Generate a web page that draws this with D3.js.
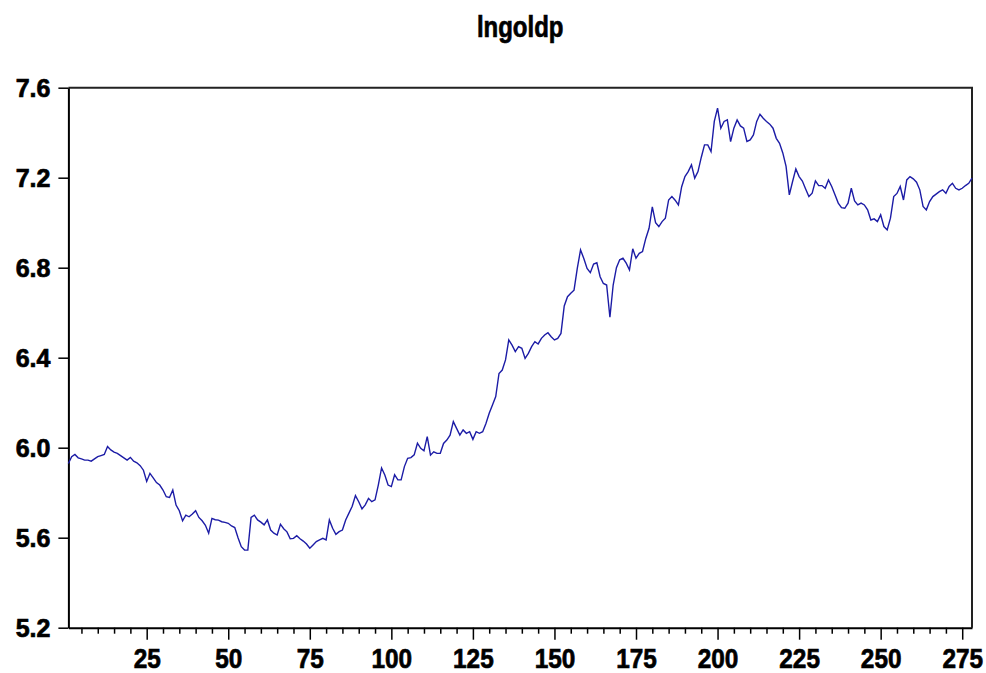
<!DOCTYPE html>
<html>
<head>
<meta charset="utf-8">
<script src="https://cdn.jsdelivr.net/npm/d3@7"></script>
<style>
  body { margin: 0; background: #fff; }
  svg text { font-family: "Liberation Sans", Arial, sans-serif; font-weight: bold; fill: #000; stroke: #000; stroke-width: 0.7px; }
</style>
</head>
<body>
<div id="chart"></div>
<script>
// series title
const title = "lngoldp";

const values = [
  5.930, 5.960, 5.970, 5.955, 5.950, 5.945, 5.945, 5.940, 5.950, 5.960,
  5.965, 5.970, 6.005, 5.990, 5.980, 5.975, 5.965, 5.955, 5.945, 5.957,
  5.940, 5.933, 5.920, 5.900, 5.850, 5.886, 5.866, 5.845, 5.834, 5.812,
  5.782, 5.779, 5.812, 5.745, 5.720, 5.675, 5.700, 5.693, 5.705, 5.720,
  5.690, 5.675, 5.655, 5.620, 5.686, 5.680, 5.678, 5.671, 5.668, 5.664,
  5.652, 5.645, 5.600, 5.560, 5.545, 5.545, 5.690, 5.700, 5.679, 5.669,
  5.657, 5.679, 5.634, 5.620, 5.612, 5.660, 5.640, 5.626, 5.595, 5.597,
  5.609, 5.595, 5.585, 5.572, 5.553, 5.568, 5.583, 5.590, 5.597, 5.590,
  5.679, 5.642, 5.615, 5.627, 5.634, 5.679, 5.709, 5.740, 5.787, 5.760,
  5.728, 5.746, 5.775, 5.760, 5.768, 5.834, 5.910, 5.879, 5.834, 5.827,
  5.880, 5.857, 5.857, 5.916, 5.953, 5.956, 5.968, 6.020, 5.997, 5.986,
  6.049, 5.967, 5.982, 5.975, 5.975, 6.019, 6.034, 6.056, 6.116, 6.086,
  6.056, 6.079, 6.064, 6.071, 6.037, 6.071, 6.064, 6.071, 6.108, 6.153,
  6.190, 6.227, 6.330, 6.345, 6.390, 6.479, 6.456, 6.427, 6.449, 6.442,
  6.397, 6.419, 6.449, 6.471, 6.461, 6.486, 6.501, 6.511, 6.493, 6.479,
  6.486, 6.508, 6.630, 6.671, 6.686, 6.700, 6.797, 6.879, 6.841, 6.797,
  6.778, 6.816, 6.822, 6.760, 6.730, 6.723, 6.580, 6.723, 6.800, 6.835,
  6.842, 6.820, 6.790, 6.884, 6.842, 6.864, 6.872, 6.930, 6.975, 7.070,
  7.000, 6.983, 7.005, 7.020, 7.101, 7.116, 7.100, 7.079, 7.160, 7.205,
  7.227, 7.257, 7.198, 7.227, 7.290, 7.346, 7.346, 7.316, 7.450, 7.509,
  7.420, 7.450, 7.457, 7.360, 7.420, 7.457, 7.430, 7.420, 7.361, 7.368,
  7.390, 7.450, 7.482, 7.464, 7.450, 7.438, 7.420, 7.375, 7.353, 7.310,
  7.250, 7.124, 7.183, 7.239, 7.205, 7.185, 7.150, 7.116, 7.131, 7.186,
  7.165, 7.165, 7.153, 7.190, 7.161, 7.124, 7.087, 7.067, 7.064, 7.087,
  7.153, 7.097, 7.079, 7.087, 7.079, 7.057, 7.012, 7.017, 7.005, 7.035,
  6.983, 6.968, 7.020, 7.116, 7.130, 7.161, 7.101, 7.190, 7.205, 7.195,
  7.180, 7.146, 7.072, 7.057, 7.094, 7.116, 7.127, 7.138, 7.146, 7.131,
  7.161, 7.175, 7.153, 7.146, 7.153, 7.165, 7.175, 7.198
];

// axis ticks
const yTicks = [5.2, 5.6, 6.0, 6.4, 6.8, 7.2, 7.6];
const xMajor = [25, 50, 75, 100, 125, 150, 175, 200, 225, 250, 275];
const xMinorStep = 5;

const W = 986, H = 673;
const plot = { left: 68.4, right: 972, top: 87.7, bottom: 627.7 };

const svg = d3.select("#chart").append("svg")
    .attr("width", W)
    .attr("height", H);

const x = d3.scaleLinear()
    .domain([1, values.length])
    .range([plot.left, plot.right]);

const y = d3.scaleLinear()
    .domain([5.2, 7.6])
    .range([plot.bottom, plot.top]);

// title
svg.append("text")
    .attr("text-anchor", "middle")
    .attr("transform", "translate(" + ((plot.left + plot.right) / 2) + ",37) scale(0.8,1)")
    .style("font-size", "30px")
    .text(title);

// plot frame (top and right sides)
svg.append("path")
    .attr("d", "M" + plot.left + "," + plot.top + "H" + plot.right + "V" + plot.bottom)
    .attr("fill", "none")
    .attr("stroke", "#222")
    .attr("stroke-width", 2);

// y axis
const yAxis = svg.append("g")
    .attr("transform", "translate(" + plot.left + ",0)")
    .call(d3.axisLeft(y)
        .tickValues(yTicks)
        .tickFormat(d3.format(".1f"))
        .tickSize(10)
        .tickSizeOuter(0)
        .tickPadding(8));
yAxis.select(".domain").attr("stroke", "#000").attr("stroke-width", 2);
yAxis.selectAll(".tick line").attr("stroke", "#000").attr("stroke-width", 1.5);
yAxis.selectAll(".tick text")
    .style("font-size", "25px")
    .attr("dy", "0.36em");

// x axis: minor ticks every 5, labels every 25
const xAxis = svg.append("g")
    .attr("transform", "translate(0," + plot.bottom + ")")
    .call(d3.axisBottom(x)
        .tickValues(d3.range(xMinorStep, values.length, xMinorStep))
        .tickFormat(d => xMajor.includes(d) ? d : "")
        .tickSizeOuter(0));
xAxis.select(".domain").attr("stroke", "#000").attr("stroke-width", 2);
xAxis.selectAll(".tick line")
    .attr("stroke", "#000")
    .attr("stroke-width", 1.5)
    .attr("y2", d => xMajor.includes(d) ? 12 : 6);
xAxis.selectAll(".tick text")
    .style("font-size", "28px")
    .attr("y", 40)
    .attr("dy", 0)
    .attr("transform", "scale(0.87,1)");

// the series
const line = d3.line()
    .x((d, i) => x(i + 1))
    .y(d => y(d));

svg.append("path")
    .datum(values)
    .attr("fill", "none")
    .attr("stroke", "#1c1ca6")
    .attr("stroke-width", 1.4)
    .attr("d", line);
</script>
</body>
</html>
